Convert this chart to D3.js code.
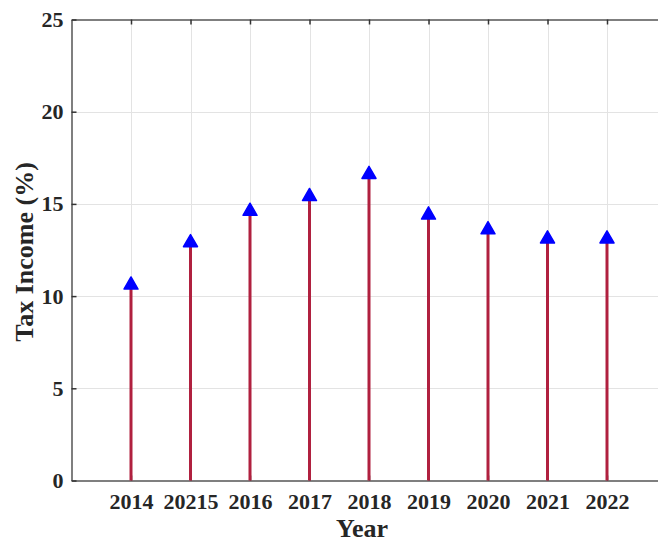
<!DOCTYPE html>
<html>
<head>
<meta charset="utf-8">
<script src="https://cdn.jsdelivr.net/npm/d3@7"></script>
<style>
  html, body { margin: 0; padding: 0; background: #fff; }
  svg { display: block; }
  text { font-family: "Liberation Serif", "Times New Roman", serif; font-weight: bold; fill: #262626; }
</style>
</head>
<body>
<svg id="chart" width="658" height="543"></svg>
<script>
// Tax income share by year
const years = ["2014", "20215", "2016", "2017", "2018", "2019", "2020", "2021", "2022"];
const taxIncome = [10.6, 12.9, 14.6, 15.4, 16.6, 14.4, 13.6, 13.1, 13.1];
const yTicks = [0, 5, 10, 15, 20, 25];

const svg = d3.select("#chart");
const plotLeft = 71.5, plotRight = 666.5, plotTop = 19.5, plotBottom = 480.5;

const x = d3.scaleLinear().domain([0, years.length + 1]).range([plotLeft, plotRight]);
const y = d3.scaleLinear().domain([0, 25]).range([plotBottom, plotTop]);
const xi = years.map((_, i) => i + 1);

// grid
const grid = svg.append("g").attr("stroke", "#e3e3e3").attr("stroke-width", 1);
grid.selectAll("line.v").data(xi).join("line")
  .attr("x1", d => Math.round(x(d)) + 0.5).attr("x2", d => Math.round(x(d)) + 0.5)
  .attr("y1", plotTop).attr("y2", plotBottom);
grid.selectAll("line.h").data(yTicks.slice(1, -1)).join("line")
  .attr("x1", plotLeft).attr("x2", plotRight)
  .attr("y1", d => Math.round(y(d)) + 0.5).attr("y2", d => Math.round(y(d)) + 0.5);

// axes
const axisColor = "#555";
const tickFont = g => g.selectAll(".tick text")
  .style("font-family", "Liberation Serif").style("font-weight", "bold").attr("fill", "#262626");

const xAxis = d3.axisBottom(x).tickValues(xi).tickFormat((d) => years[d - 1]).tickSizeInner(-5).tickSizeOuter(0).tickPadding(13);
const gx = svg.append("g").attr("transform", `translate(0,${plotBottom})`).call(xAxis);
gx.select(".domain").attr("stroke", axisColor).attr("stroke-width", 1.5);
gx.selectAll(".tick line").attr("stroke", "#333").attr("stroke-width", 1.5);
gx.call(tickFont).selectAll(".tick text").style("font-size", "22px");

const xTop = d3.axisTop(x).tickValues(xi).tickFormat("").tickSizeInner(-5).tickSizeOuter(0);
const gxt = svg.append("g").attr("transform", `translate(0,${plotTop})`).call(xTop);
gxt.select(".domain").attr("stroke", axisColor).attr("stroke-width", 1.5);
gxt.selectAll(".tick line").attr("stroke", "#333").attr("stroke-width", 1.5);

const yAxis = d3.axisLeft(y).tickValues(yTicks).tickSizeInner(-5).tickSizeOuter(0).tickPadding(8);
const gy = svg.append("g").attr("transform", `translate(${plotLeft},0)`).call(yAxis);
gy.select(".domain").attr("stroke", axisColor).attr("stroke-width", 1.5);
gy.selectAll(".tick line").attr("stroke", "#333").attr("stroke-width", 1.5);
gy.call(tickFont).selectAll(".tick text").style("font-size", "22px");

// stems
svg.append("g").selectAll("line").data(taxIncome).join("line")
  .attr("x1", (d, i) => x(i + 1)).attr("x2", (d, i) => x(i + 1))
  .attr("y1", y(0)).attr("y2", d => y(d))
  .attr("stroke", "#b0203f").attr("stroke-width", 3);

// triangle markers
const tri = d3.symbol().type(d3.symbolTriangle).size(85);
svg.append("g").selectAll("path").data(taxIncome).join("path")
  .attr("d", tri)
  .attr("transform", (d, i) => `translate(${x(i + 1)},${y(d)})`)
  .attr("fill", "#0000ff").attr("stroke", "#0000ff").attr("stroke-width", 1.5)
  .attr("stroke-linejoin", "round");

// axis titles
svg.append("text").attr("x", 362).attr("y", 537).attr("text-anchor", "middle")
  .style("font-size", "26px").text("Year");
svg.append("text").attr("transform", `translate(33,252) rotate(-90)`).attr("text-anchor", "middle")
  .style("font-size", "26px").text("Tax Income (%)");
</script>
</body>
</html>
